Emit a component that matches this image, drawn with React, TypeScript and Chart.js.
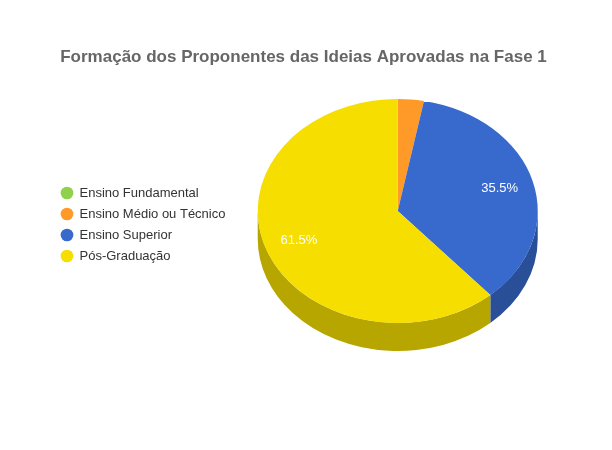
import React, { useEffect, useRef } from "react";
import { Chart, registerables } from "chart.js";

Chart.register(...registerables);

const chartTitle = "Formação dos Proponentes das Ideias Aprovadas na Fase 1";
const categories = ["Ensino Fundamental", "Ensino Médio ou Técnico", "Ensino Superior", "Pós-Graduação"];
const shares = [0, 3.0, 35.5, 61.5];
const sliceColors = ["#8FD14A", "#FF9A28", "#3869CC", "#F5DE00"];
const sideColors = ["#6B9D38", "#BF731E", "#2A4F99", "#B8A600"];

const FONT = "'Liberation Sans', Arial, sans-serif";
const TILT = 0.8;
const DEPTH = 28;

const pie3d = {
  id: "pie3d",
  afterLayout(chart: any) {
    if (chart.legend) {
      chart.legend.top += 49;
      chart.legend.bottom += 49;
    }
    const tb = chart.titleBlock;
    if (tb) {
      tb.left -= 3;
      tb.right -= 3;
    }
  },
  beforeDatasetsDraw(chart: any) {
    const ctx = chart.ctx;
    const arcs = chart.getDatasetMeta(0).data;
    const cy = arcs[0].y;
    arcs.forEach((a: any, i: number) => {
      const from = Math.max(a.startAngle, 0);
      const to = Math.min(a.endAngle, Math.PI);
      if (shares[i] <= 0 || to <= from) return;
      const rx = a.outerRadius;
      const ry = a.outerRadius * TILT;
      ctx.beginPath();
      ctx.ellipse(a.x, cy + DEPTH, rx, ry, 0, from, to);
      ctx.ellipse(a.x, cy, rx, ry, 0, to, from, true);
      ctx.closePath();
      ctx.fillStyle = sideColors[i];
      ctx.fill();
    });
    ctx.save();
    ctx.translate(0, cy);
    ctx.scale(1, TILT);
    ctx.translate(0, -cy);
  },
  afterDatasetsDraw(chart: any) {
    const ctx = chart.ctx;
    ctx.restore();
    const arcs = chart.getDatasetMeta(0).data;
    ctx.save();
    ctx.fillStyle = "#ffffff";
    ctx.font = `13px ${FONT}`;
    ctx.textAlign = "center";
    ctx.textBaseline = "middle";
    arcs.forEach((a: any, i: number) => {
      if (shares[i] < 5) return;
      const mid = (a.startAngle + a.endAngle) / 2;
      const r = a.outerRadius * 0.755;
      const x = a.x + Math.cos(mid) * r;
      const y = a.y + Math.sin(mid) * r * TILT;
      ctx.fillText(`${shares[i].toFixed(1)}%`, x, y);
    });
    ctx.restore();
  },
};

export default function App() {
  const ref = useRef<HTMLCanvasElement>(null);
  useEffect(() => {
    const chart = new Chart(ref.current as HTMLCanvasElement, {
      type: "pie",
      data: {
        labels: categories,
        datasets: [{ data: shares, backgroundColor: sliceColors, borderWidth: 0 }],
      },
      options: {
        animation: false,
        responsive: false,
        layout: { padding: { left: 53, right: 52, top: 0, bottom: 99 } },
        plugins: {
          tooltip: { enabled: false },
          title: {
            display: true,
            text: chartTitle,
            color: "#666666",
            font: { family: FONT, size: 17, weight: "bold", lineHeight: 1.2 },
            padding: { top: 47, bottom: 3.6 },
          },
          legend: {
            position: "left",
            labels: {
              usePointStyle: true,
              pointStyle: "circle",
              boxWidth: 12,
              boxHeight: 9,
              padding: 8,
              color: "#333333",
              font: { family: FONT, size: 13 },
            },
          },
        },
      },
      plugins: [pie3d],
    } as any);
    return () => chart.destroy();
  }, []);
  return (
    <div style={{ position: "fixed", left: 0, top: 0, width: 612, height: 450, background: "#fff" }}>
      <canvas ref={ref} width={612} height={450} style={{ display: "block" }} />
    </div>
  );
}
